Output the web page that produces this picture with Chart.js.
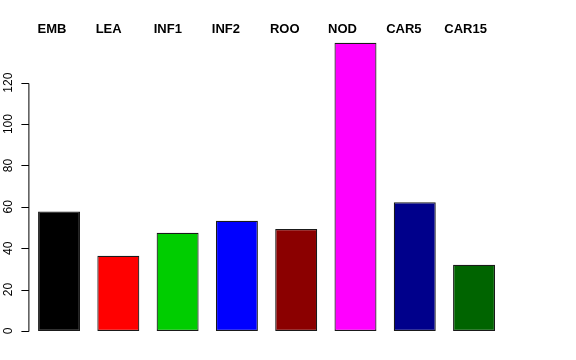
<!DOCTYPE html>
<html>
<head>
<meta charset="utf-8">
<script src="https://cdn.jsdelivr.net/npm/chart.js@4"></script>
<style>
  html, body { margin: 0; padding: 0; background: #fff; }
  #wrap { width: 576px; height: 360px; }
</style>
</head>
<body>
<div id="wrap"><canvas id="myChart" width="576" height="360"></canvas></div>
<script>
// datos del gráfico
const categories = ['EMB', 'LEA', 'INF1', 'INF2', 'ROO', 'NOD', 'CAR5', 'CAR15'];
const values = [57.7, 36.4, 47.5, 53.3, 49.3, 139.3, 62.2, 32.0];
const barColors = ['#000000', '#ff0000', '#00cd00', '#0000ff', '#8b0000', '#ff00ff', '#00008b', '#006400'];
const yTicks = [0, 20, 40, 60, 80, 100, 120];

// eje y al estilo de R: línea solo entre el primer y último tick
const rAxis = {
    id: 'rAxis',
    afterDraw(chart) {
        const ctx = chart.ctx;
        const y = chart.scales.y;
        const x = chart.scales.x;
        const left = chart.chartArea.left;
        ctx.save();
        ctx.strokeStyle = '#000';
        ctx.lineWidth = 1;
        ctx.beginPath();
        ctx.moveTo(left - 0.5, Math.round(y.getPixelForValue(yTicks[0])) + 0.5);
        ctx.lineTo(left - 0.5, Math.round(y.getPixelForValue(yTicks[yTicks.length - 1])) + 0.5);
        yTicks.forEach(t => {
            const py = Math.round(y.getPixelForValue(t)) + 0.5;
            ctx.moveTo(left - 0.5, py);
            ctx.lineTo(left - 8, py);
        });
        ctx.stroke();
        ctx.fillStyle = '#000';
        ctx.font = '12px "Liberation Sans", Arial, sans-serif';
        ctx.textAlign = 'center';
        ctx.textBaseline = 'middle';
        yTicks.forEach(t => {
            const py = y.getPixelForValue(t);
            ctx.save();
            ctx.translate(9, py);
            ctx.rotate(-Math.PI / 2);
            ctx.fillText(String(t), 0, 0);
            ctx.restore();
        });
        // etiquetas arriba
        ctx.font = 'bold 13px "Liberation Sans", Arial, sans-serif';
        ctx.textAlign = 'left';
        ctx.textBaseline = 'middle';
        categories.forEach((c, i) => {
            const px = x.getPixelForValue(i * 0.98) - 21.5;
            ctx.fillText(c, px, 29.5);
        });
        ctx.restore();
    }
};

const ctx = document.getElementById('myChart');
new Chart(ctx, {
    type: 'bar',
    data: {
        labels: categories,
        datasets: [{
            data: values,
            backgroundColor: barColors,
            borderColor: '#1a1a1a',
            borderWidth: 1.2,
            borderSkipped: false,
            barPercentage: 0.708,
            categoryPercentage: 1
        }]
    },
    options: {
        responsive: false,
        animation: false,
        layout: {
            padding: { left: 29.4, right: 72.3, top: 41.3, bottom: 29 }
        },
        plugins: {
            legend: { display: false },
            tooltip: { enabled: false }
        },
        scales: {
            x: { display: false },
            y: { display: false, min: 0, max: 140 }
        }
    },
    plugins: [rAxis]
});
</script>
</body>
</html>
